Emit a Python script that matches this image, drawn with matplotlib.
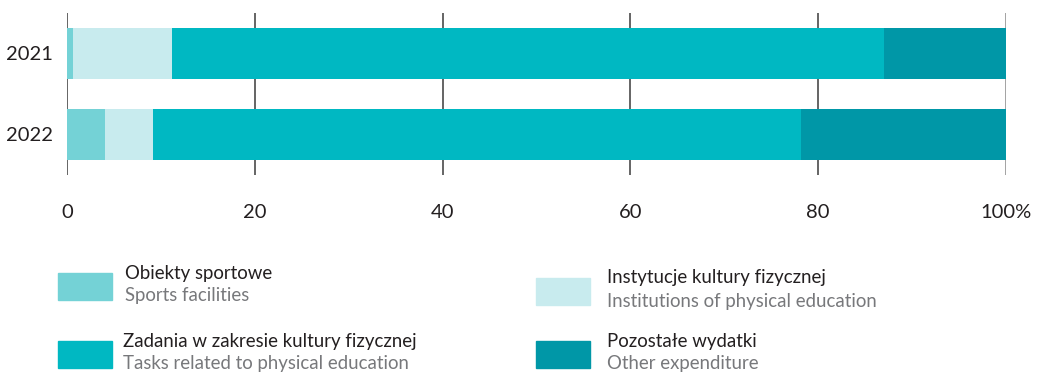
import matplotlib.pyplot as plt
from matplotlib.patches import Rectangle

plt.rcParams['font.family'] = ['Lato', 'DejaVu Sans']

years = ['2021', '2022']
categories_pl = ['Obiekty sportowe', 'Instytucje kultury fizycznej',
                 'Zadania w zakresie kultury fizycznej', 'Pozostałe wydatki']
categories_en = ['Sports facilities', 'Institutions of physical education',
                 'Tasks related to physical education', 'Other expenditure']
sports_facilities = [0.6, 4.0]
institutions = [10.6, 5.2]
tasks = [75.8, 69.0]
other = [13.0, 21.8]
colors = ['#74d2d6', '#c8ebee', '#00b8c2', '#0097a7']
x_ticks = [0, 20, 40, 60, 80, 100]
x_tick_labels = ['0', '20', '40', '60', '80', '100%']

W, H = 1037, 374
fig = plt.figure(figsize=(W / 100, H / 100), dpi=100)
ax = fig.add_axes([67 / W, 1 - 175 / H, (1006 - 67) / W, 162 / H])

series = [sports_facilities, institutions, tasks, other]
left = [0.0] * len(years)
for vals, c in zip(series, colors):
    ax.barh(range(len(years)), vals, left=left, height=0.63, color=c, zorder=2)
    left = [l + v for l, v in zip(left, vals)]

ax.set_xlim(0, 100)
ax.set_ylim(1.5, -0.5)
ax.set_yticks(range(len(years)))
ax.set_yticklabels(years, fontsize=14.5, color='#231f20')
ax.set_xticks(x_ticks)
ax.set_xticklabels(x_tick_labels, fontsize=14.5, color='#231f20')
ax.tick_params(length=0)
ax.tick_params(axis='x', pad=21)
ax.tick_params(axis='y', pad=10)
for t in x_ticks:
    ax.axvline(t, color='#8a8a8a' if t == 100 else '#3a3a3a',
               linewidth=1.1, zorder=0)
for s in ax.spines.values():
    s.set_visible(False)

# legend built by hand: swatch + Polish label + English label
legend_items = [
    (58, 273, 125, 0),
    (536, 278, 607, 1),
    (58, 341, 123, 2),
    (536, 341, 607, 3),
]
for sx, sy, tx, i in legend_items:
    fig.patches.append(Rectangle((sx / W, 1 - (sy + 27) / H), 54 / W, 27 / H,
                                 transform=fig.transFigure, color=colors[i]))
    fig.text(tx / W, 1 - (sy) / H, categories_pl[i], fontsize=13.4,
             color='#231f20', va='center', ha='left')
    fig.text(tx / W, 1 - (sy + 23) / H, categories_en[i], fontsize=13.4,
             color='#77787b', va='center', ha='left')

fig.savefig('out.png', dpi=100)
